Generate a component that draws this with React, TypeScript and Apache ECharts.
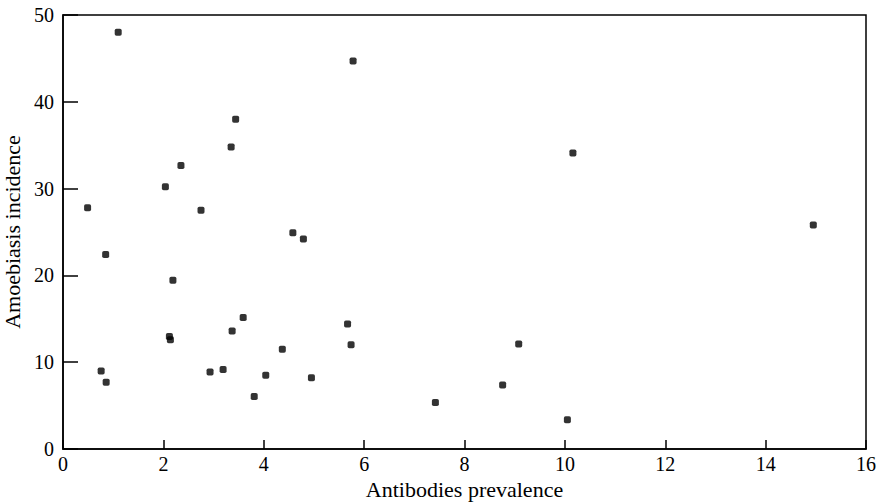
import React, { useEffect, useRef } from "react";
import * as echarts from "echarts";

const antibodies = [
  1.10, 0.49, 3.44, 3.35, 2.35, 2.04, 2.75, 4.58, 4.79, 5.78, 10.16, 14.95,
  0.85, 2.19, 3.59, 3.37, 2.12, 2.14, 4.37, 0.76, 0.86, 2.93, 3.19, 4.04,
  3.81, 4.95, 5.67, 5.74, 7.42, 9.08, 8.76, 10.05,
];
const amoebiasis = [
  48.0, 27.8, 38.0, 34.8, 32.65, 30.2, 27.5, 24.9, 24.2, 44.7, 34.1, 25.8,
  22.4, 19.45, 15.15, 13.6, 12.96, 12.6, 11.5, 9.0, 7.7, 8.86, 9.17, 8.5,
  6.06, 8.2, 14.4, 12.0, 5.37, 12.1, 7.37, 3.37,
];

const xTitle = "Antibodies prevalence";
const yTitle = "Amoebiasis incidence";

export default function App() {
  const ref = useRef<HTMLDivElement>(null);
  useEffect(() => {
    if (!ref.current) return;
    const chart = echarts.init(ref.current, null, { renderer: "svg" });
    const font = "Liberation Serif";
    chart.setOption({
      animation: false,
      backgroundColor: "#fff",
      grid: {
        left: 63,
        right: 13,
        top: 15,
        bottom: 53,
        containLabel: false,
        outerBoundsMode: "none",
        show: true,
        borderColor: "#000",
        borderWidth: 1.5,
      },
      xAxis: {
        type: "value",
        min: 0,
        max: 16,
        interval: 2,
        name: xTitle,
        nameLocation: "middle",
        nameGap: 28,
        nameTextStyle: { fontFamily: font, fontSize: 22, color: "#000" },
        axisLine: { show: true, lineStyle: { color: "#000", width: 1.5 } },
        axisTick: { show: true, inside: true, length: 9, lineStyle: { color: "#000", width: 1.5 } },
        axisLabel: { fontFamily: font, fontSize: 20, color: "#000", margin: 5 },
        splitLine: { show: false },
      },
      yAxis: {
        type: "value",
        min: 0,
        max: 50,
        interval: 10,
        name: yTitle,
        nameLocation: "middle",
        nameRotate: 90,
        nameGap: 36,
        nameTextStyle: { fontFamily: font, fontSize: 22, color: "#000" },
        axisLine: { show: true, lineStyle: { color: "#000", width: 1.5 } },
        axisTick: { show: true, inside: true, length: 15, lineStyle: { color: "#000", width: 1.5 } },
        axisLabel: { fontFamily: font, fontSize: 20, color: "#000", margin: 9 },
        splitLine: { show: false },
      },
      series: [
        {
          type: "scatter",
          symbol: "roundRect",
          symbolSize: 7,
          itemStyle: { color: "#000" },
          data: antibodies.map((x, i) => [x, amoebiasis[i]]),
        },
      ],
    });
    return () => chart.dispose();
  }, []);
  return (
    <div
      ref={ref}
      style={{ position: "fixed", left: 0, top: 0, width: 879, height: 502 }}
    />
  );
}
